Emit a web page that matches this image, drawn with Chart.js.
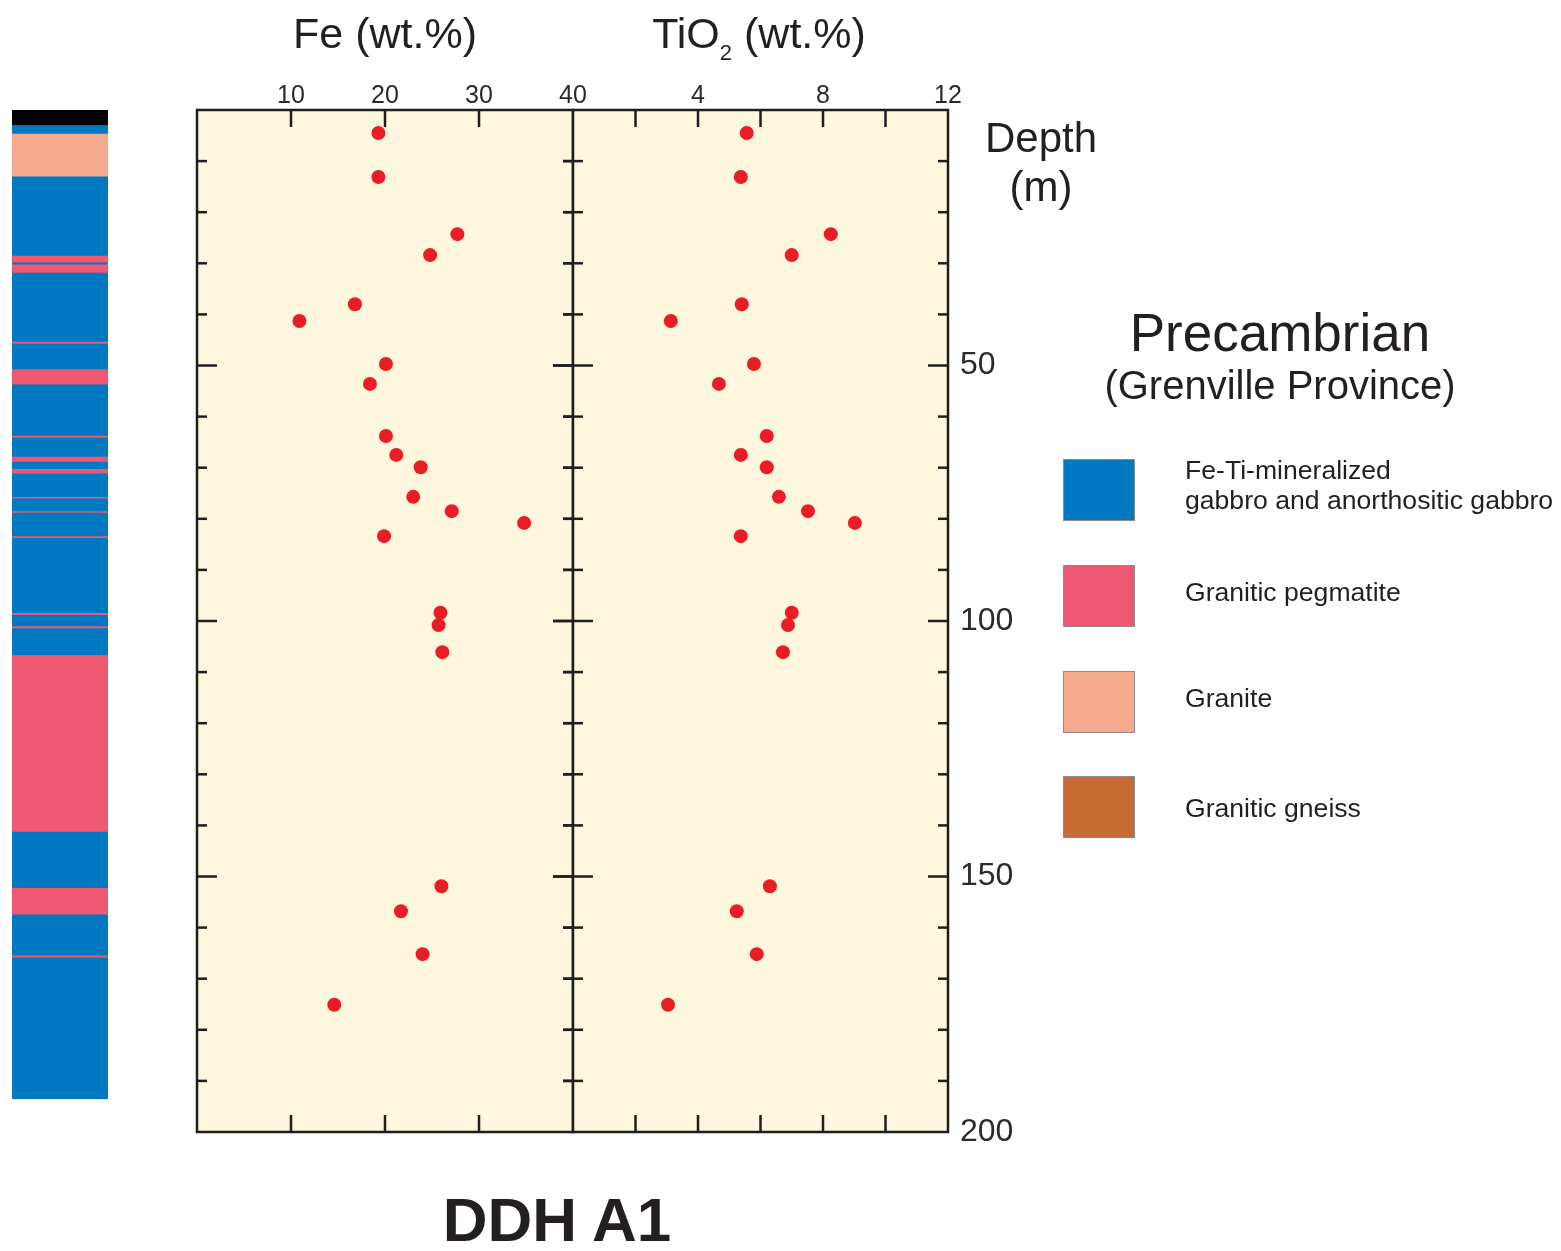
<!DOCTYPE html>
<html>
<head>
<meta charset="utf-8">
<script src="https://cdn.jsdelivr.net/npm/chart.js@4.4.1/dist/chart.umd.min.js"></script>
<style>
  html, body { margin: 0; padding: 0; background: #ffffff; }
  #wrap { position: relative; width: 1561px; height: 1251px; overflow: hidden; font-family: "Liberation Sans", Arial, Helvetica, sans-serif; color: #231f20; }
  canvas { position: absolute; left: 0; top: 0; }
  .t { position: absolute; white-space: nowrap; }
  .c { text-align: center; }
  .sw { position: absolute; width: 70px; height: 60px; border: 1px solid #8c8c8c; }
</style>
</head>
<body>
<div id="wrap">
  <canvas id="colChart" width="1561" height="1251"></canvas>
  <canvas id="feChart" width="1561" height="1251"></canvas>
  <canvas id="tiChart" width="1561" height="1251"></canvas>

  <div class="t c" style="left:185px; width:400px; top:8px; font-size:43px; line-height:50px;">Fe (wt.%)</div>
  <div class="t c" style="left:559px; width:400px; top:8px; font-size:43px; line-height:50px;">TiO<span style="font-size:22px; position:relative; top:12px;">2</span> (wt.%)</div>
  <div class="t c" style="left:941px; width:200px; top:113px; font-size:42px; line-height:50px;">Depth</div>
  <div class="t c" style="left:941px; width:200px; top:162px; font-size:42px; line-height:50px;">(m)</div>

  <div class="t c" style="left:1030px; width:500px; top:303px; font-size:53px; line-height:60px;">Precambrian</div>
  <div class="t c" style="left:1030px; width:500px; top:362px; font-size:40px; line-height:46px;">(Grenville Province)</div>

  <div class="sw" style="left:1063px; top:459px; background:#0079c2;"></div>
  <div class="sw" style="left:1063px; top:565px; background:#ef5873;"></div>
  <div class="sw" style="left:1063px; top:671px; background:#f5aa8e;"></div>
  <div class="sw" style="left:1063px; top:776px; background:#c76b35;"></div>
  <div class="t" style="left:1185px; top:455px; font-size:26.6px; line-height:30px;">Fe-Ti-mineralized<br>gabbro and anorthositic gabbro</div>
  <div class="t" style="left:1185px; top:577px; font-size:26.6px; line-height:30px;">Granitic pegmatite</div>
  <div class="t" style="left:1185px; top:683px; font-size:26.6px; line-height:30px;">Granite</div>
  <div class="t" style="left:1185px; top:793px; font-size:26.6px; line-height:30px;">Granitic gneiss</div>

  <div class="t c" style="left:307px; width:500px; top:1185px; font-size:62px; line-height:70px; font-weight:bold;">DDH A1</div>
</div>

<script>
// ---------------- DATA ----------------
const sampleDepths = [4.5, 13.1, 24.3, 28.4, 38.0, 41.3, 49.7, 53.6, 63.8, 67.5, 69.9, 75.7, 78.5, 80.8, 83.4, 98.4, 100.8, 106.1, 151.9, 156.8, 165.2, 175.1];
const feValues     = [19.3, 19.3, 27.7, 24.8, 16.8, 10.9, 20.1, 18.4, 20.1, 21.2, 23.8, 23.0, 27.1, 34.8, 19.9, 25.9, 25.7, 26.1, 26.0, 21.7, 24.0, 14.6];
const tiO2Values   = [5.56, 5.37, 8.25, 7.00, 5.40, 3.13, 5.79, 4.67, 6.20, 5.37, 6.20, 6.59, 7.52, 9.02, 5.37, 7.00, 6.88, 6.72, 6.30, 5.24, 5.88, 3.04];

const feTickLabels    = [10, 20, 30, 40];
const tiTickLabels    = [4, 8, 12];
const depthTickLabels = [50, 100, 150, 200];

// Lithology log (depth top, depth bottom, unit)
const layerTops    = [0, 3, 4.7, 13.1, 28.6, 29.9, 30.3, 31.9, 45.4, 45.8, 50.8, 53.8, 63.8, 64.2, 67.9, 68.9, 70.3, 71.2, 75.8, 76.1, 78.6, 78.9, 83.5, 83.8, 98.5, 98.9, 101.1, 101.5, 106.7, 141.3, 152.3, 157.5, 165.5, 165.9];
const layerBottoms = [3, 4.7, 13.1, 28.6, 29.9, 30.3, 31.9, 45.4, 45.8, 50.8, 53.8, 63.8, 64.2, 67.9, 68.9, 70.3, 71.2, 75.8, 76.1, 78.6, 78.9, 83.5, 83.8, 98.5, 98.9, 101.1, 101.5, 106.7, 141.3, 152.3, 157.5, 165.5, 165.9, 193.5];
const layerUnits   = ['cover', 'gabbro', 'granite', 'gabbro', 'pegmatite', 'gabbro', 'pegmatite', 'gabbro', 'pegmatite', 'gabbro', 'pegmatite', 'gabbro', 'pegmatite', 'gabbro', 'pegmatite', 'gabbro', 'pegmatite', 'gabbro', 'pegmatite', 'gabbro', 'pegmatite', 'gabbro', 'pegmatite', 'gabbro', 'pegmatite', 'gabbro', 'pegmatite', 'gabbro', 'pegmatite', 'gabbro', 'pegmatite', 'gabbro', 'pegmatite', 'gabbro'];
const unitColors = { cover: '#000000', gabbro: '#0079c2', pegmatite: '#ef5873', granite: '#f5aa8e', gneiss: '#c76b35' };

// ---------------- LAYOUT HELPERS ----------------
const W = 1561, H = 1251;
const PLOT_TOP = 110, PLOT_BOTTOM = 1132;
const FONT = '"Liberation Sans", Arial, Helvetica, sans-serif';
const INK = '#1e1e1e';
const CREAM = '#fdf8dd';

const bgPlugin = {
  id: 'bg',
  beforeDraw(chart) {
    const a = chart.chartArea, ctx = chart.ctx;
    ctx.save(); ctx.fillStyle = CREAM; ctx.fillRect(a.left, a.top, a.right - a.left, a.bottom - a.top); ctx.restore();
  }
};

function frameTicks(xTickValues, leftStyle, rightStyle) {
  return {
    id: 'frameTicks',
    afterDraw(chart) {
      const a = chart.chartArea, ctx = chart.ctx;
      const xs = chart.scales.x, ys = chart.scales.y;
      ctx.save();
      ctx.strokeStyle = INK; ctx.lineWidth = 2.5; ctx.lineCap = 'butt';
      xTickValues.forEach(v => {
        const px = xs.getPixelForValue(v);
        ctx.beginPath(); ctx.moveTo(px, a.top); ctx.lineTo(px, a.top + 17); ctx.stroke();
        ctx.beginPath(); ctx.moveTo(px, a.bottom); ctx.lineTo(px, a.bottom - 17); ctx.stroke();
      });
      for (let d = 10; d < 200; d += 10) {
        const py = ys.getPixelForValue(d);
        const major = d % 50 === 0;
        const len = major ? 20 : 10;
        ctx.beginPath();
        if (leftStyle === 'in') { ctx.moveTo(a.left, py); ctx.lineTo(a.left + len, py); }
        else { ctx.moveTo(a.left - len, py); ctx.lineTo(a.left + len, py); }
        ctx.stroke();
        ctx.beginPath();
        if (rightStyle === 'in') { ctx.moveTo(a.right, py); ctx.lineTo(a.right - len, py); }
        else { ctx.moveTo(a.right - len, py); ctx.lineTo(a.right + len, py); }
        ctx.stroke();
      }
      ctx.strokeRect(a.left, a.top, a.right - a.left, a.bottom - a.top);
      ctx.restore();
    }
  };
}

const depthScale = (display) => ({
  type: 'linear', min: 0, max: 200, reverse: true, display: display
});

// ---------------- LITHOLOGY COLUMN ----------------
new Chart(document.getElementById('colChart'), {
  type: 'bar',
  data: {
    labels: ['DDH A1'],
    datasets: [{
      label: 'Lithology',
      data: layerTops.map((t, i) => ({ x: 'DDH A1', y: [t, layerBottoms[i]] })),
      backgroundColor: layerUnits.map(u => unitColors[u]),
      borderWidth: 0,
      barPercentage: 1.0,
      categoryPercentage: 1.0
    }]
  },
  options: {
    responsive: false, animation: false, devicePixelRatio: 1,
    layout: { padding: { left: 12, right: W - 108, top: PLOT_TOP, bottom: H - PLOT_BOTTOM } },
    plugins: { legend: { display: false }, tooltip: { enabled: false } },
    scales: { x: { type: 'category', display: false }, y: depthScale(false) }
  }
});

// ---------------- Fe PANEL ----------------
new Chart(document.getElementById('feChart'), {
  type: 'scatter',
  data: {
    datasets: [{
      label: 'Fe (wt.%)',
      data: sampleDepths.map((d, i) => ({ x: feValues[i], y: d })),
      backgroundColor: '#e81d25', borderColor: '#e81d25', borderWidth: 0,
      pointRadius: 7, pointHoverRadius: 7
    }]
  },
  options: {
    responsive: false, animation: false, devicePixelRatio: 1,
    layout: { padding: { left: 197, right: W - 573, top: PLOT_TOP - 45, bottom: H - PLOT_BOTTOM } },
    plugins: { legend: { display: false }, tooltip: { enabled: false } },
    scales: {
      x: {
        type: 'linear', position: 'top', min: 0, max: 40,
        grid: { display: false, drawTicks: false }, border: { display: false },
        afterFit: s => { s.height = 45; },
        ticks: {
          stepSize: 10, padding: 1, color: '#2a2a2a', maxRotation: 0,
          font: { family: FONT, size: 25, lineHeight: 1.0 },
          callback: v => feTickLabels.includes(v) ? String(v) : ''
        }
      },
      y: depthScale(false)
    }
  },
  plugins: [bgPlugin, frameTicks([10, 20, 30], 'in', 'cross')]
});

// ---------------- TiO2 PANEL ----------------
new Chart(document.getElementById('tiChart'), {
  type: 'scatter',
  data: {
    datasets: [{
      label: 'TiO2 (wt.%)',
      data: sampleDepths.map((d, i) => ({ x: tiO2Values[i], y: d })),
      backgroundColor: '#e81d25', borderColor: '#e81d25', borderWidth: 0,
      pointRadius: 7, pointHoverRadius: 7
    }]
  },
  options: {
    responsive: false, animation: false, devicePixelRatio: 1,
    layout: { padding: { left: 573, right: W - 948 - 80, top: PLOT_TOP - 45, bottom: H - PLOT_BOTTOM } },
    plugins: { legend: { display: false }, tooltip: { enabled: false } },
    scales: {
      x: {
        type: 'linear', position: 'top', min: 0, max: 12,
        grid: { display: false, drawTicks: false }, border: { display: false },
        afterFit: s => { s.height = 45; },
        ticks: {
          stepSize: 2, padding: 1, color: '#2a2a2a', maxRotation: 0,
          font: { family: FONT, size: 25, lineHeight: 1.0 },
          callback: v => tiTickLabels.includes(v) ? String(v) : ''
        }
      },
      y: {
        type: 'linear', position: 'right', min: 0, max: 200, reverse: true,
        grid: { display: false, drawTicks: false }, border: { display: false },
        afterFit: s => { s.width = 80; },
        ticks: {
          stepSize: 50, padding: 12, color: '#2a2a2a',
          font: { family: FONT, size: 32, lineHeight: 1.2 },
          callback: v => depthTickLabels.includes(v) ? String(v) : ''
        }
      }
    }
  },
  plugins: [bgPlugin, frameTicks([2, 4, 6, 8, 10], 'cross', 'in')]
});
</script>
</body>
</html>
